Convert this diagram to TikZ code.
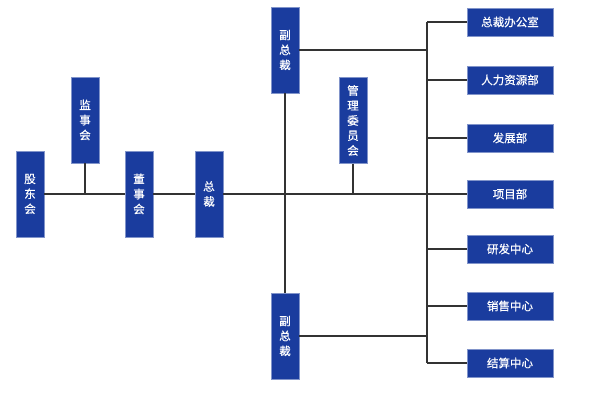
\documentclass[tikz,border=0pt]{standalone}
\usepackage{fontspec}
\newfontfamily\cjk[FakeBold=0.6]{Noto Sans CJK SC}
\usetikzlibrary{positioning, calc}
\definecolor{orgblue}{HTML}{1A3C9E}
\definecolor{linegray}{HTML}{333333}

\begin{document}
\begin{tikzpicture}[x=1pt, y=-1pt,
  vbox/.style={fill=orgblue, draw=orgblue!55!white, line width=0.5pt, text=white,
    font=\cjk\fontsize{11.5}{15}\selectfont, minimum width=28pt, minimum height=86pt,
    inner sep=0pt, align=center},
  hbox/.style={fill=orgblue, draw=orgblue!55!white, line width=0.5pt, text=white,
    font=\cjk\fontsize{11.5}{14}\selectfont, minimum width=86pt, minimum height=28pt,
    inner sep=0pt},
  link/.style={draw=linegray, line width=1.6pt}]
  \useasboundingbox (0,0) rectangle (590,406);

  % Left chain of vertical boxes
  \node[vbox] (gudong) at (30,194) {股\\东\\会};
  \node[vbox] (jianshi) at (85,120) {监\\事\\会};
  \node[vbox] (dongshi) at (139,194) {董\\事\\会};
  \node[vbox] (zongcai) at (209,194) {总\\裁};

  % Vice presidents and committee
  \node[vbox] (fuzong1) at (285,50) {副\\总\\裁};
  \node[vbox] (guanli) at (353,120.5) {管\\理\\委\\员\\会};
  \node[vbox] (fuzong2) at (285,336) {副\\总\\裁};

  % Departments on the right
  \coordinate (bus) at (427,0);
  \foreach \name/\ypos/\label in {
    bangong/22/总裁办公室,
    renli/80/人力资源部,
    fazhan/138/发展部,
    xiangmu/194/项目部,
    yanfa/249/研发中心,
    xiaoshou/306/销售中心,
    jiesuan/363/结算中心
  } {
    \node[hbox] (\name) at (510,\ypos) {\label};
    \draw[link] (bus |- \name.west) -- (\name.west);
  }

  % Connectors
  \draw[link] (gudong.east) -- (dongshi.west);
  \draw[link] (dongshi.east) -- (zongcai.west);
  \draw[link] (jianshi.south) -- (jianshi.south |- gudong.east);
  \draw[link] (zongcai.east) -- (xiangmu.west);
  \draw[link] (fuzong1.south) -- (fuzong2.north);
  \draw[link] (guanli.south) -- (guanli.south |- zongcai.east);
  \draw[link] (bus |- bangong.west) -- (bus |- jiesuan.west);
  \draw[link] (fuzong1.east) -- (bus |- fuzong1.east);
  \draw[link] (fuzong2.east) -- (bus |- fuzong2.east);
\end{tikzpicture}
\end{document}
